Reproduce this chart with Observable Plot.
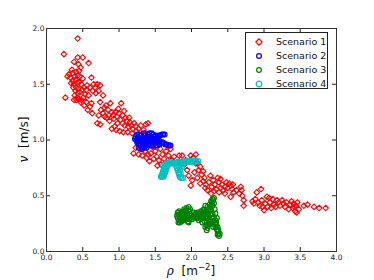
<!DOCTYPE html>
<html>
<head>
<meta charset="utf-8">
<script src="https://cdn.jsdelivr.net/npm/d3@7"></script>
<script src="https://cdn.jsdelivr.net/npm/@observablehq/plot@0.6"></script>
<style>
  html, body { margin: 0; padding: 0; background: #fff; }
  #wrap { position: relative; width: 374px; height: 280px; }
  #legend { position: absolute; left: 245px; top: 32px; width: 83px; height: 57px;
    border: 1px solid #222; background: #fff; box-sizing: border-box;
    font-family: "DejaVu Sans", sans-serif; font-size: 9.5px; color: #111; }
  #legend .row { position: absolute; left: 0; height: 14px; line-height: 14px; white-space: nowrap; }
  #legend svg { position: absolute; left: 9px; top: 3px; }
  #legend span { position: absolute; left: 30px; top: 0; }
</style>
</head>
<body>
<div id="wrap"></div>
<script>
const xTicks = [0.0, 0.5, 1.0, 1.5, 2.0, 2.5, 3.0, 3.5, 4.0];
const yTicks = [0.0, 0.5, 1.0, 1.5, 2.0];
const seriesNames = ["Scenario 1", "Scenario 2", "Scenario 3", "Scenario 4"];
const seriesColors = ["#ff0000", "#0000ff", "#008000", "#00bfbf"];

// Scenario 1: [rho, v]
const scenario1 = [
 [0.24,1.77],[0.43,1.91],[0.26,1.38],[0.43,1.74],[0.50,1.74],[0.38,1.70],[0.58,1.69],[0.47,1.65],[0.45,1.62],[0.41,1.61],
 [0.36,1.60],[0.31,1.59],[0.29,1.57],[0.33,1.56],[0.39,1.57],[0.43,1.58],[0.46,1.57],[0.40,1.54],[0.36,1.53],[0.34,1.51],
 [0.38,1.50],[0.42,1.51],[0.45,1.52],[0.48,1.50],[0.37,1.47],[0.41,1.47],[0.44,1.46],[0.40,1.44],[0.43,1.42],[0.46,1.43],
 [0.39,1.40],[0.42,1.38],[0.38,1.36],[0.41,1.36],[0.45,1.37],[0.48,1.36],[0.51,1.38],[0.47,1.34],[0.53,1.41],[0.55,1.45],
 [0.52,1.47],[0.56,1.49],[0.60,1.47],[0.62,1.56],[0.65,1.50],[0.67,1.47],[0.70,1.50],[0.74,1.49],[0.64,1.44],[0.58,1.40],
 [0.55,1.34],[0.60,1.30],[0.57,1.27],[0.63,1.24],[0.68,1.42],[0.72,1.44],[0.78,1.40],[0.74,1.34],[0.62,1.33],[0.52,1.31],
 [0.50,1.55],[0.49,1.45],[0.35,1.63],[0.44,1.68],
 [0.72,1.22],[0.75,1.27],[0.78,1.24],[0.80,1.29],[0.82,1.31],[0.85,1.27],[0.88,1.33],[0.86,1.22],[0.90,1.25],[0.92,1.22],
 [0.95,1.25],[0.93,1.19],[0.97,1.21],[1.00,1.24],[1.03,1.33],[1.05,1.22],[1.07,1.26],[1.09,1.20],[1.02,1.18],[0.98,1.15],
 [0.94,1.12],[0.90,1.10],[0.96,1.09],[1.01,1.08],[1.05,1.15],[1.08,1.13],[1.11,1.17],[1.13,1.12],[1.15,1.16],[1.17,1.13],
 [1.19,1.10],[1.21,1.15],[1.23,1.12],[1.24,1.08],[1.18,1.06],[1.12,1.07],[0.70,1.15],[0.74,1.14],[0.83,1.20],[0.87,1.17],
 [0.80,1.21],[1.06,1.07],[0.99,1.28],[1.14,1.20],[1.27,1.10],[1.30,1.13],[1.34,1.09],[1.37,1.14],[1.40,1.15],[1.36,1.06],
 [1.20,0.88],[1.27,0.87],[1.23,0.93],[1.29,0.92],[1.33,0.94],[1.36,0.90],[1.40,0.87],[1.44,0.88],[1.46,0.94],[1.50,0.90],
 [1.53,0.77],[1.48,0.83],[1.52,0.85],[1.55,0.82],[1.57,0.92],[1.60,0.87],[1.62,0.83],[1.65,0.90],[1.68,0.86],[1.71,0.92],
 [1.72,0.82],[1.76,0.85],[1.80,0.80],[1.83,0.86],[1.87,0.86],[1.85,0.80],[1.90,0.78],[1.42,0.81],[1.58,0.78],[1.66,0.79],
 [1.38,0.84],[1.32,0.86],
 [1.99,0.86],[2.06,0.87],[2.02,0.84],[1.94,0.73],[2.01,0.64],[1.99,0.59],[2.12,0.61],[2.26,0.68],[2.38,0.62],[2.22,0.55],
 [2.54,0.59],[2.58,0.53],[2.54,0.49],[2.68,0.58],[2.72,0.46],[2.72,0.41],[1.96,0.68],[2.04,0.71],[2.08,0.66],[2.10,0.73],
 [2.14,0.69],[2.16,0.63],[2.18,0.66],[2.20,0.60],[2.24,0.62],[2.28,0.58],[2.30,0.64],[2.32,0.60],[2.34,0.56],[2.36,0.66],
 [2.40,0.57],[2.42,0.60],[2.44,0.55],[2.46,0.58],[2.48,0.62],[2.50,0.57],[2.52,0.61],[2.56,0.56],[2.46,0.52],[2.62,0.55],
 [2.66,0.52],[2.70,0.50],[2.69,0.55],[2.31,0.54],[2.27,0.52],[2.19,0.57],[2.06,0.79],[2.12,0.76],[2.16,0.72],[2.08,0.80],
 [1.92,0.82],[2.40,0.65],[2.57,0.60],[2.38,0.53],
 [2.90,0.53],[2.96,0.56],[2.86,0.43],[3.04,0.49],[3.00,0.37],[3.18,0.46],[3.27,0.43],[3.41,0.43],[3.43,0.36],[3.55,0.41],
 [3.69,0.40],[3.76,0.39],[3.85,0.39],[2.84,0.45],[2.88,0.47],[2.92,0.44],[2.94,0.41],[2.97,0.46],[3.02,0.43],[3.05,0.40],
 [3.08,0.44],[3.10,0.39],[3.12,0.47],[3.14,0.42],[3.16,0.40],[3.20,0.44],[3.22,0.41],[3.25,0.46],[3.29,0.40],[3.31,0.44],
 [3.34,0.38],[3.36,0.42],[3.38,0.45],[3.40,0.39],[3.44,0.41],[3.46,0.44],[3.48,0.38],[3.45,0.35],[3.42,0.40],[3.07,0.48],
 [2.98,0.40],[3.60,0.42]
];

// Scenario 2
const scenario2 = [
 [1.22,1.01],[1.23,1.03],[1.24,1.00],[1.25,0.98],[1.26,1.02],[1.27,0.96],[1.27,0.93],[1.28,0.99],[1.29,1.01],[1.29,0.95],
 [1.30,0.97],[1.31,0.93],[1.31,0.99],[1.32,1.02],[1.33,0.96],[1.33,0.94],[1.34,0.98],[1.35,1.01],[1.35,0.96],[1.36,1.04],
 [1.37,0.98],[1.37,0.95],[1.38,1.02],[1.39,0.97],[1.40,1.05],[1.40,1.00],[1.41,0.96],[1.42,1.06],[1.42,1.02],[1.43,0.98],
 [1.44,1.03],[1.45,0.97],[1.46,1.01],[1.47,0.98],[1.48,1.03],[1.49,0.97],[1.50,1.00],[1.51,1.04],[1.52,0.98],[1.53,1.02],
 [1.54,0.97],[1.55,1.04],[1.56,0.99],[1.57,1.04],[1.58,0.97],[1.59,1.05],[1.60,0.98],[1.61,1.05],[1.62,0.97],[1.63,1.05],
 [1.64,0.96],[1.66,0.96],[1.68,0.95],[1.70,0.95],[1.71,0.95],[1.25,1.05],[1.28,1.05],[1.30,1.04],[1.32,0.92],[1.35,0.93],
 [1.38,0.93],[1.44,0.95],[1.47,0.95],[1.50,0.95],[1.53,0.95],[1.56,0.96],[1.34,1.06],[1.45,1.06],[1.47,1.05],[1.26,0.99],
 [1.29,0.97],[1.32,1.00],[1.36,0.99],[1.39,1.03],[1.41,0.99],[1.43,1.01],[1.46,0.99],[1.49,1.01],[1.52,1.00],[1.55,0.98]
];

// Scenario 3
const scenario3 = [
 [1.80,0.32],[1.81,0.30],[1.82,0.33],[1.83,0.28],[1.84,0.31],[1.85,0.34],[1.86,0.27],[1.87,0.30],[1.88,0.33],[1.89,0.36],
 [1.90,0.38],[1.91,0.35],[1.92,0.31],[1.93,0.29],[1.94,0.33],[1.95,0.37],[1.96,0.40],[1.97,0.36],[1.98,0.32],[1.99,0.30],
 [2.00,0.32],[2.02,0.31],[2.04,0.33],[2.06,0.34],[2.08,0.30],[2.10,0.28],[2.12,0.31],[2.14,0.33],[2.16,0.30],[2.18,0.27],
 [2.20,0.24],[2.22,0.21],[2.21,0.26],[2.23,0.30],[2.22,0.34],[2.20,0.36],[2.17,0.38],[2.19,0.41],[2.22,0.40],[2.25,0.42],
 [2.28,0.44],[2.30,0.46],[2.31,0.48],[2.29,0.41],[2.27,0.37],[2.26,0.33],[2.28,0.30],[2.30,0.27],[2.32,0.25],[2.33,0.22],
 [2.35,0.20],[2.36,0.18],[2.37,0.16],[2.38,0.14],[2.34,0.26],[2.29,0.34],[2.24,0.36],[2.13,0.36],[2.08,0.35],[2.15,0.26],
 [2.25,0.25],[1.82,0.26],[1.96,0.26],[2.33,0.34],[2.35,0.30],
 [1.81,0.35],[1.83,0.36],[1.84,0.26],[1.86,0.32],[1.87,0.35],[1.88,0.28],[1.89,0.31],[1.90,0.33],[1.92,0.36],[1.93,0.39],
 [1.94,0.30],[1.95,0.27],[1.97,0.29],[1.98,0.38],[2.01,0.29],[2.03,0.35],[2.05,0.30],[2.07,0.32],[2.09,0.33],[2.11,0.34],
 [2.13,0.29],[2.17,0.32],[2.19,0.30],[2.19,0.22],[2.21,0.19],[2.23,0.24],[2.24,0.28],[2.23,0.38],[2.26,0.40],[2.27,0.45],
 [2.29,0.47],[2.31,0.43],[2.32,0.38],[2.31,0.31],[2.33,0.28],[2.34,0.24],[2.36,0.22],[2.37,0.19],[2.36,0.15],[2.39,0.16],
 [2.30,0.22],[2.28,0.25],[2.26,0.27],[2.21,0.31],[2.18,0.35],[2.16,0.37],[1.85,0.29],[1.91,0.28]
];

// Scenario 4
const scenario4 = [
 [1.64,0.78],[1.66,0.79],[1.68,0.79],[1.70,0.80],[1.72,0.80],[1.74,0.79],[1.76,0.79],[1.78,0.79],[1.80,0.79],[1.82,0.80],
 [1.84,0.80],[1.86,0.79],[1.88,0.80],[1.90,0.80],[1.92,0.81],[1.94,0.80],[1.96,0.81],[1.98,0.81],[2.00,0.81],[2.02,0.80],
 [2.04,0.81],[2.06,0.81],[2.09,0.81],
 [1.63,0.76],[1.62,0.74],[1.61,0.72],[1.60,0.70],[1.59,0.68],[1.58,0.67],[1.60,0.67],[1.62,0.68],[1.63,0.70],[1.64,0.72],
 [1.65,0.74],[1.66,0.76],[1.61,0.77],[1.67,0.77],
 [1.79,0.77],[1.80,0.75],[1.81,0.73],[1.82,0.71],[1.83,0.69],[1.84,0.67],[1.86,0.66],[1.88,0.66],[1.85,0.70],[1.84,0.73],
 [1.83,0.76],[1.86,0.78],[1.87,0.76]
];

const W = 374, H = 280, mL = 46, mR = 38, mT = 28, mB = 29;
const innerW = W - mL - mR, innerH = H - mT - mB, tickLen = 4;

const plot = Plot.plot({
  width: W, height: H,
  marginLeft: mL, marginRight: mR, marginTop: mT, marginBottom: mB,
  x: {domain: [0, 4]},
  y: {domain: [0, 2]},
  style: {fontFamily: "DejaVu Sans, sans-serif", fontSize: "7.5px", background: "#fff", color: "#222"},
  marks: [
    Plot.dot(scenario1, {x: d => d[0], y: d => d[1], symbol: "diamond2", r: 2.5, stroke: seriesColors[0], fill: "none", strokeWidth: 1.1}),
    Plot.dot(scenario2, {x: d => d[0], y: d => d[1], r: 2.4, stroke: seriesColors[1], fill: "none", strokeWidth: 1.2}),
    Plot.dot(scenario3, {x: d => d[0], y: d => d[1], r: 2.4, stroke: seriesColors[2], fill: "none", strokeWidth: 1.2}),
    Plot.dot(scenario4, {x: d => d[0], y: d => d[1], r: 2.6, stroke: seriesColors[3], fill: "none", strokeWidth: 1.2}),
    Plot.tickX(xTicks, {x: d => d, insetTop: innerH - tickLen, stroke: "#222"}),
    Plot.tickX(xTicks, {x: d => d, insetBottom: innerH - tickLen, stroke: "#222"}),
    Plot.tickY(yTicks, {y: d => d, insetRight: innerW - tickLen, stroke: "#222"}),
    Plot.tickY(yTicks, {y: d => d, insetLeft: innerW - tickLen, stroke: "#222"}),
    Plot.axisX(xTicks, {tickSize: 0, tickPadding: 3, tickFormat: d3.format(".1f"), label: null}),
    Plot.axisY(yTicks, {tickSize: 0, tickPadding: 2, tickFormat: d3.format(".1f"), label: null}),
    Plot.frame({stroke: "#333"})
  ]
});

const wrap = document.getElementById("wrap");
wrap.appendChild(plot);

const svg = d3.select(plot);
// x axis title
const xt = svg.append("text")
  .attr("x", mL + innerW / 2).attr("y", H - 5)
  .attr("text-anchor", "middle")
  .attr("font-family", "DejaVu Sans, sans-serif").attr("font-size", 12).attr("fill", "#111");
xt.append("tspan").attr("font-family", "DejaVu Serif, serif").attr("font-style", "italic").text("ρ");
xt.append("tspan").text("\u00a0\u00a0[m");
xt.append("tspan").attr("font-size", 8.5).attr("dy", -5).text("−2");
xt.append("tspan").attr("dy", 5).text("]");

// y axis title
const yt = svg.append("text")
  .attr("transform", `translate(28,${mT + innerH / 2}) rotate(-90)`)
  .attr("text-anchor", "middle")
  .attr("font-family", "DejaVu Sans, sans-serif").attr("font-size", 12).attr("fill", "#111");
yt.append("tspan").attr("font-family", "DejaVu Serif, serif").attr("font-style", "italic").text("v");
yt.append("tspan").text("\u00a0\u00a0[m/s]");

// legend
const legend = d3.select(wrap).append("div").attr("id", "legend");
seriesNames.forEach((name, i) => {
  const row = legend.append("div").attr("class", "row").style("top", (2 + i * 14) + "px").style("width", "100%");
  const s = row.append("svg").attr("width", 8).attr("height", 8);
  if (i === 0) {
    s.append("path").attr("d", "M4,0.8L7.2,4L4,7.2L0.8,4Z").attr("fill", "none").attr("stroke", seriesColors[i]).attr("stroke-width", 1.2);
  } else {
    s.append("circle").attr("cx", 4).attr("cy", 4).attr("r", i === 3 ? 2.8 : 2.4).attr("fill", "none").attr("stroke", seriesColors[i]).attr("stroke-width", 1.2);
  }
  row.append("span").text(name);
});
</script>
</body>
</html>
